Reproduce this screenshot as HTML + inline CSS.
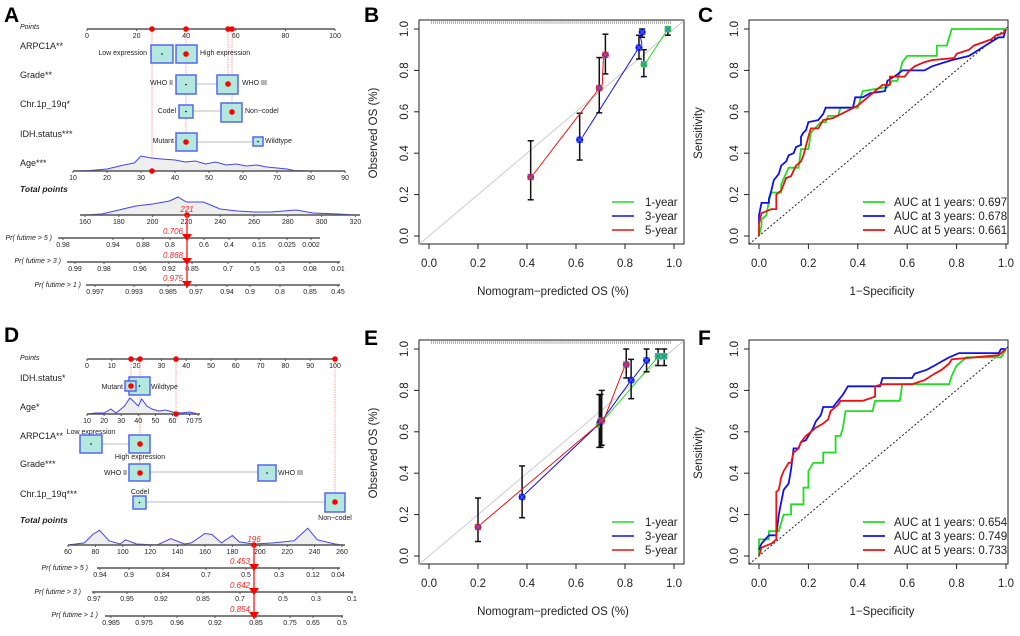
<!DOCTYPE html>
<html><head><meta charset="utf-8"><style>
body{margin:0;background:#fff;}
svg{display:block;font-family:"Liberation Sans",Arial,sans-serif;}
</style></head><body>
<svg id="fig" width="1020" height="636" viewBox="0 0 1020 636" xmlns="http://www.w3.org/2000/svg">
<text x="4" y="22" font-size="21" font-weight="bold">A</text>
<text x="364" y="22" font-size="21" font-weight="bold">B</text>
<text x="698" y="22" font-size="21" font-weight="bold">C</text>
<text x="4" y="342" font-size="21" font-weight="bold">D</text>
<text x="364" y="345" font-size="21" font-weight="bold">E</text>
<text x="698" y="345" font-size="21" font-weight="bold">F</text>
</svg>
<script>
// ---------- Calibration data (B) ----------
const calB_5y_x=[0.415,0.695,0.72], calB_5y_y=[0.285,0.715,0.875], calB_5y_lo=[0.175,0.595,0.783], calB_5y_hi=[0.46,0.862,0.975];
const calB_3y_x=[0.615,0.857,0.87], calB_3y_y=[0.465,0.91,0.985], calB_3y_lo=[0.367,0.855,0.96], calB_3y_hi=[0.593,0.97,1.0];
const calB_1y_x=[0.877,0.975], calB_1y_y=[0.83,1.0], calB_1y_lo=[0.77,0.97], calB_1y_hi=[0.9,1.0];
// ---------- Calibration data (E) ----------
const calE_5y_x=[0.2,0.705,0.805], calE_5y_y=[0.14,0.655,0.925], calE_5y_lo=[0.07,0.535,0.86], calE_5y_hi=[0.28,0.8,1.0];
const calE_3y_x=[0.38,0.7,0.825,0.888], calE_3y_y=[0.285,0.65,0.85,0.945], calE_3y_lo=[0.185,0.525,0.76,0.89], calE_3y_hi=[0.435,0.78,0.95,1.0];
const calE_1y_x=[0.695,0.935,0.96], calE_1y_y=[0.635,0.965,0.965], calE_1y_lo=[0.525,0.92,0.92], calE_1y_hi=[0.78,1.0,1.0];
const calTicks=[0,0.2,0.4,0.6,0.8,1.0];
const calTickLabels=["0.0","0.2","0.4","0.6","0.8","1.0"];
const legendYears=["1-year","3-year","5-year"];
// ---------- ROC data (C) ----------
const rocC_1y=[[0,0],[0.01,0.05],[0.01,0.08],[0.03,0.1],[0.04,0.17],[0.05,0.21],[0.09,0.21],[0.09,0.25],[0.12,0.33],[0.16,0.33],[0.17,0.42],[0.2,0.42],[0.21,0.5],[0.25,0.55],[0.27,0.55],[0.28,0.58],[0.32,0.58],[0.33,0.62],[0.4,0.62],[0.42,0.7],[0.52,0.72],[0.54,0.75],[0.56,0.75],[0.57,0.79],[0.58,0.84],[0.6,0.87],[0.72,0.87],[0.72,0.92],[0.76,0.92],[0.77,0.96],[0.78,1.0],[1,1]];
const rocC_3y=[[0,0.06],[0,0.1],[0.01,0.16],[0.04,0.16],[0.04,0.18],[0.05,0.22],[0.06,0.27],[0.08,0.3],[0.09,0.34],[0.11,0.36],[0.12,0.39],[0.14,0.4],[0.15,0.43],[0.17,0.44],[0.17,0.48],[0.18,0.5],[0.19,0.51],[0.2,0.55],[0.24,0.56],[0.26,0.59],[0.27,0.62],[0.38,0.62],[0.39,0.67],[0.42,0.67],[0.45,0.69],[0.51,0.7],[0.52,0.75],[0.56,0.78],[0.58,0.8],[0.67,0.8],[0.7,0.82],[0.78,0.85],[0.85,0.87],[0.89,0.9],[0.93,0.93],[0.97,0.96],[0.99,0.96],[1,1]];
const rocC_5y=[[0,0],[0,0.06],[0.01,0.11],[0.03,0.12],[0.05,0.13],[0.07,0.13],[0.07,0.2],[0.09,0.22],[0.11,0.28],[0.13,0.29],[0.15,0.34],[0.17,0.36],[0.18,0.39],[0.2,0.48],[0.21,0.52],[0.24,0.52],[0.26,0.56],[0.3,0.57],[0.35,0.6],[0.4,0.63],[0.44,0.67],[0.47,0.7],[0.5,0.73],[0.53,0.73],[0.53,0.77],[0.59,0.77],[0.61,0.8],[0.63,0.82],[0.67,0.84],[0.7,0.85],[0.79,0.86],[0.8,0.88],[0.85,0.9],[0.87,0.92],[0.94,0.95],[0.96,0.97],[0.99,0.98],[1,1]];
const aucC=["0.697","0.678","0.661"];
// ---------- ROC data (F) ----------
const rocF_1y=[[0,0],[0,0.08],[0.04,0.08],[0.04,0.12],[0.08,0.12],[0.09,0.16],[0.1,0.2],[0.13,0.2],[0.13,0.25],[0.18,0.25],[0.18,0.33],[0.2,0.33],[0.2,0.41],[0.22,0.45],[0.26,0.45],[0.26,0.5],[0.31,0.5],[0.31,0.58],[0.33,0.58],[0.34,0.62],[0.35,0.7],[0.46,0.7],[0.47,0.75],[0.57,0.75],[0.58,0.83],[0.77,0.83],[0.78,0.87],[0.8,0.92],[0.84,0.96],[0.98,0.96],[1,1]];
const rocF_3y=[[0,0.03],[0.01,0.06],[0.04,0.1],[0.07,0.1],[0.08,0.2],[0.09,0.26],[0.1,0.32],[0.12,0.35],[0.13,0.42],[0.14,0.52],[0.16,0.52],[0.17,0.55],[0.19,0.56],[0.21,0.6],[0.22,0.62],[0.23,0.65],[0.25,0.68],[0.26,0.72],[0.3,0.72],[0.32,0.75],[0.34,0.78],[0.36,0.82],[0.49,0.82],[0.5,0.86],[0.62,0.86],[0.63,0.88],[0.68,0.9],[0.71,0.92],[0.74,0.94],[0.77,0.96],[0.81,0.98],[0.97,0.98],[0.98,1],[1,1]];
const rocF_5y=[[0,0],[0.01,0.04],[0.03,0.05],[0.05,0.06],[0.07,0.08],[0.07,0.31],[0.08,0.32],[0.09,0.38],[0.1,0.41],[0.12,0.45],[0.13,0.45],[0.14,0.5],[0.16,0.52],[0.17,0.55],[0.19,0.58],[0.21,0.6],[0.23,0.62],[0.26,0.64],[0.28,0.66],[0.29,0.7],[0.32,0.73],[0.33,0.75],[0.42,0.75],[0.47,0.77],[0.47,0.82],[0.5,0.83],[0.62,0.83],[0.67,0.85],[0.71,0.88],[0.74,0.9],[0.77,0.93],[0.78,0.95],[0.97,0.97],[1,1]];
const aucF=["0.654","0.749","0.733"];
// ---------- Nomogram data ----------
const pointTicks=[0,20,40,60,80,100];
const pointTicksD=[0,10,20,30,40,50,60,70,80,90,100];
const ageTicksA=[10,20,30,40,50,60,70,80,90];
const ageDensA=[[10,0],[15,0.5],[20,2],[25,6],[28,8],[30,15],[33,13],[36,12],[40,11],[43,9],[46,10],[49,7],[52,9],[55,6],[58,7],[61,5],[64,6],[67,4],[70,3],[73,2],[75,0.5],[80,0],[90,0]];
const totTicksA=[160,180,200,220,240,260,280,300,320];
const totDensA=[[160,0],[170,1],[180,5],[190,9],[200,11],[210,14],[215,18],[220,13],[230,13],[240,6],[250,4],[260,3],[270,3],[285,5],[295,2],[310,1],[320,0]];
const prA5=[["0.98",63],["0.94",113],["0.88",143],["0.8",170],["0.6",204],["0.4",229],["0.15",259],["0.025",287],["0.002",311]];
const prA3=[["0.99",75],["0.98",104],["0.96",140],["0.92",169],["0.85",192],["0.7",228],["0.5",255],["0.3",280],["0.08",310],["0.01",338]];
const prA1=[["0.997",95],["0.993",134],["0.985",168],["0.97",196],["0.94",227],["0.9",250],["0.8",280],["0.85",310],["0.45",338]];
const ageTicksD=[10,20,30,40,50,60,70,75];
const ageDensD=[[10,0],[15,1],[20,1],[24,5],[27,1],[32,8],[35,16],[37,13],[40,8],[42,15],[45,8],[48,5],[52,3],[56,4],[60,2],[65,1],[70,2],[75,0]];
const totTicksD=[60,80,100,120,140,160,180,200,220,240,260];
const totDensD=[[60,0],[72,2],[78,10],[83,14],[90,4],[98,1],[102,5],[110,1],[125,0],[135,6],[145,1],[150,2],[160,11],[165,10],[172,2],[180,9],[185,3],[195,1],[210,2],[225,4],[235,16],[242,5],[255,1],[260,0]];
const prD5=[["0.94",100],["0.9",129],["0.84",163],["0.7",206],["0.5",246],["0.3",279],["0.12",313],["0.04",338]];
const prD3=[["0.97",94],["0.95",127],["0.92",161],["0.85",203],["0.7",240],["0.5",283],["0.3",316],["0.1",352]];
const prD1=[["0.985",111],["0.975",144],["0.96",177],["0.92",215],["0.85",256],["0.75",290],["0.65",313],["0.5",342]];

const svg=document.getElementById('fig');
const NS='http://www.w3.org/2000/svg';
function mk(tag,attrs,parent){const e=document.createElementNS(NS,tag);for(const k in attrs)e.setAttribute(k,attrs[k]);(parent||svg).appendChild(e);return e;}
function txt(x,y,s,attrs,parent){const e=mk('text',Object.assign({x:x,y:y},attrs||{}),parent);e.textContent=s;return e;}
const COL={g:'#22dd22',b:'#1010ee',r:'#ee1111'};
const FS=11.5;

// ===== calibration panel =====
function calPanel(oy,name,series,rugDense){
  const L=419,R=684,T=oy+20,B=oy+244;
  const y1=oy+29,y0=oy+236;
  const sx=v=>429+v*245, sy=v=>y0-v*(y0-y1);
  const g=mk('g',{});
  
  
  mk('rect',{x:L,y:T,width:R-L,height:B-T,fill:'none',stroke:'#222','stroke-width':1},g);
  mk('line',{x1:sx(-0.04),y1:sy(-0.04),x2:R,y2:sy((R-429)/245),stroke:'#ccc','stroke-width':1},g);
  calTicks.forEach((t,i)=>{
    mk('line',{x1:sx(t),y1:B,x2:sx(t),y2:B+5,stroke:'#222'},g);
    txt(sx(t),B+23,calTickLabels[i],{'font-size':FS,'text-anchor':'middle',fill:'#222'},g);
    mk('line',{x1:L,y1:sy(t),x2:L-5,y2:sy(t),stroke:'#222'},g);
    txt(L-11,sy(t),calTickLabels[i],{'font-size':FS,'text-anchor':'middle',fill:'#222',transform:`rotate(-90 ${L-11} ${sy(t)})`},g);
  });
  txt(553,B+51,'Nomogram\u2212predicted OS (%)',{'font-size':FS,'text-anchor':'middle',fill:'#222'},g);
  const ylx=377,yly=oy+133;
  txt(ylx,yly,'Observed OS (%)',{'font-size':FS,'text-anchor':'middle',fill:'#222',transform:`rotate(-90 ${ylx} ${yly})`},g);
  rugDense.forEach(v=>{mk('line',{x1:sx(v),y1:T,x2:sx(v),y2:T+4,stroke:'#666','stroke-width':0.5},g);});
  series.forEach(s=>{
    for(let i=0;i<s.x.length-1;i++){
      mk('line',{x1:sx(s.x[i])+3,y1:sy(s.y[i])-3,x2:sx(s.x[i+1])-2,y2:sy(s.y[i+1])+3,stroke:s.c,'stroke-width':1},g);
    }
    s.x.forEach((v,i)=>{
      const X=sx(v);
      mk('line',{x1:X,y1:sy(s.lo[i]),x2:X,y2:sy(s.hi[i]),stroke:'#111','stroke-width':1.5},g);
      mk('line',{x1:X-3,y1:sy(s.lo[i]),x2:X+3,y2:sy(s.lo[i]),stroke:'#111','stroke-width':1.5},g);
      mk('line',{x1:X-3,y1:sy(s.hi[i]),x2:X+3,y2:sy(s.hi[i]),stroke:'#111','stroke-width':1.5},g);
      const p=mk('circle',{cx:X,cy:sy(s.y[i]),r:3.5,fill:s.c},g);
      
      
      mk('path',{d:`M${X-3} ${sy(s.y[i])-3}L${X+3} ${sy(s.y[i])+3}M${X-3} ${sy(s.y[i])+3}L${X+3} ${sy(s.y[i])-3}`,stroke:'#4466ff','stroke-width':1},g);
    });
  });
  [COL.g,COL.b,COL.r].forEach((c,i)=>{
    const yy=oy+202+i*14;
    mk('line',{x1:612,y1:yy,x2:634,y2:yy,stroke:c,'stroke-width':1.5},g);
    txt(645,yy+4,legendYears[i],{'font-size':FS,fill:'#222'},g);
  });
}
const rugB=[];for(let i=0;i<120;i++){rugB.push(0.01+i*0.0082);}
calPanel(0,'calibration-chart-b',[
 {x:calB_1y_x,y:calB_1y_y,lo:calB_1y_lo,hi:calB_1y_hi,c:COL.g},
 {x:calB_3y_x,y:calB_3y_y,lo:calB_3y_lo,hi:calB_3y_hi,c:COL.b},
 {x:calB_5y_x,y:calB_5y_y,lo:calB_5y_lo,hi:calB_5y_hi,c:COL.r}],rugB);
calPanel(320,'calibration-chart-e',[
 {x:calE_1y_x,y:calE_1y_y,lo:calE_1y_lo,hi:calE_1y_hi,c:COL.g},
 {x:calE_3y_x,y:calE_3y_y,lo:calE_3y_lo,hi:calE_3y_hi,c:COL.b},
 {x:calE_5y_x,y:calE_5y_y,lo:calE_5y_lo,hi:calE_5y_hi,c:COL.r}],rugB);

// ===== ROC panels =====
function rocPanel(oy,name,curves,aucs){
  const L=749,R=1008,T=oy+20,B=oy+244;
  const y1=oy+29,y0=oy+236;
  const sx=v=>759+v*247, sy=v=>y0-v*(y0-y1);
  const g=mk('g',{});
  
  
  mk('rect',{x:L,y:T,width:R-L,height:B-T,fill:'none',stroke:'#222'},g);
  mk('line',{x1:L,y1:sy(-0.04),x2:R,y2:sy(1.01),stroke:'#222','stroke-dasharray':'2,2'},g);
  calTicks.forEach((t,i)=>{
    mk('line',{x1:sx(t),y1:B,x2:sx(t),y2:B+5,stroke:'#222'},g);
    txt(sx(t),B+23,calTickLabels[i],{'font-size':FS,'text-anchor':'middle',fill:'#222'},g);
    mk('line',{x1:L,y1:sy(t),x2:L-5,y2:sy(t),stroke:'#222'},g);
    txt(L-11,sy(t),calTickLabels[i],{'font-size':FS,'text-anchor':'middle',fill:'#222',transform:`rotate(-90 ${L-11} ${sy(t)})`},g);
  });
  txt(882,B+51,'1\u2212Specificity',{'font-size':FS,'text-anchor':'middle',fill:'#222'},g);
  txt(702,oy+133,'Sensitivity',{'font-size':FS,'text-anchor':'middle',fill:'#222',transform:`rotate(-90 702 ${oy+133})`},g);
  [COL.g,COL.b,COL.r].forEach((c,i)=>{
    const pts=curves[i].map(p=>sx(p[0]).toFixed(1)+','+sy(p[1]).toFixed(1)).join(' ');
    const pl=mk('polyline',{points:pts,fill:'none',stroke:c,'stroke-width':1.8},g);
    
    
  });
  ['1','3','5'].forEach((y,i)=>{
    const yy=oy+202+i*14;
    mk('line',{x1:863,y1:yy,x2:885,y2:yy,stroke:[COL.g,COL.b,COL.r][i],'stroke-width':1.8},g);
    txt(894,yy+4,'AUC at '+y+' years: '+aucs[i],{'font-size':FS,fill:'#222'},g);
  });
}
rocPanel(0,'roc-chart-c',[rocC_1y,rocC_3y,rocC_5y],aucC);
rocPanel(320,'roc-chart-f',[rocF_1y,rocF_3y,rocF_5y],aucF);

// ===== Nomograms =====
function axis(g,x1,x2,y,ticks,scale,fs){
  mk('line',{x1:x1,y1:y,x2:x2,y2:y,stroke:'#555','stroke-width':1.5},g);
  ticks.forEach(t=>{
    const X=typeof t==='object'?t[1]:scale(t), L=typeof t==='object'?t[0]:String(t);
    mk('line',{x1:X,y1:y,x2:X,y2:y+2,stroke:'#555'},g);
    txt(X,y+9,L,{'font-size':fs||7,'text-anchor':'middle',fill:'#222'},g);
  });
}
function box(g,x,y,w,h){mk('rect',{x:x,y:y,width:w,height:h,fill:'#b2e8dd',stroke:'#5566ee','stroke-width':1.5},g);mk('circle',{cx:x+w/2,cy:y+h/2,r:0.8,fill:'#000'},g);}
function dens(g,pts,sx,base,k){
  const d='M'+pts.map(p=>sx(p[0]).toFixed(1)+','+(base-p[1]*k).toFixed(1)).join('L');
  mk('path',{d:d+'Z',fill:'#eeeeee',stroke:'none'},g);
  mk('path',{d:d,fill:'none',stroke:'#4444ee','stroke-width':1},g);
}
function reddot(g,x,y){mk('circle',{cx:x,cy:y,r:2.8,fill:'#ff0000'},g);}
function vline(g,x,y1,y2){mk('line',{x1:x,y1:y1,x2:x,y2:y2,stroke:'#ff8888','stroke-width':0.8,'stroke-dasharray':'1.5,1'},g);}
function tri(g,x,y){mk('path',{d:`M${x-5} ${y-4}L${x+5} ${y-4}L${x} ${y+3}Z`,fill:'#ff0000'},g);}
const lab={'font-size':9,fill:'#222'};
const ital={'font-size':7,'font-style':'italic',fill:'#222','text-anchor':'end'};
const sm={'font-size':7,fill:'#222'};

// --- A ---
(function(){
  const g=mk('g',{});
  
  
  const px=v=>87+v*2.48;
  txt(20,29,'Points',{'font-size':7,'font-style':'italic',fill:'#222'},g);
  axis(g,87,335,29,pointTicks,px);
  const age=v=>73+(v-10)*3.4;
  const tot=v=>85+(v-160)*1.69;
  ['ARPC1A**','Grade**','Chr.1p_19q*','IDH.status***','Age***'].forEach((s,i)=>txt(20,[49,78,107,137,166][i],s,lab,g));
  txt(20,192,'Total points',{'font-size':8.5,'font-weight':'bold','font-style':'italic',fill:'#222'},g);
  vline(g,152,29,171);vline(g,186,29,142);vline(g,228,29,84);vline(g,232,29,112);
  mk('line',{x1:197,y1:84,x2:217,y2:84,stroke:'#ddd','stroke-width':2},g);
  mk('line',{x1:193,y1:111,x2:221,y2:111,stroke:'#ddd','stroke-width':2},g);
  mk('line',{x1:197,y1:142,x2:252,y2:142,stroke:'#ddd','stroke-width':2},g);
  box(g,151,45,22,18);box(g,176,45,21,18);
  box(g,176,75,20,19);box(g,217,75,21,19);
  box(g,179,105,14,13);box(g,221,103,21,19);
  box(g,176,133,21,18);box(g,253,137,10,9);
  txt(147,55,'Low expression',Object.assign({'text-anchor':'end'},sm),g);
  txt(200,55,'High expression',sm,g);
  txt(173,85,'WHO II',Object.assign({'text-anchor':'end'},sm),g);
  txt(242,85,'WHO III',sm,g);
  txt(176,113,'Codel',Object.assign({'text-anchor':'end'},sm),g);
  txt(245,113,'Non\u2212codel',sm,g);
  txt(174,143,'Mutant',Object.assign({'text-anchor':'end'},sm),g);
  txt(265,143,'Wildtype',sm,g);
  dens(g,ageDensA,age,171,1);
  axis(g,73,345,171,ageTicksA,age);
  dens(g,totDensA,tot,215,1);
  axis(g,80,360,215,totTicksA,tot);
  [[152,29],[186,29],[228,29],[232,29],[186,54],[228,84],[232,112],[186,142],[152,171],[187,215]].forEach(p=>reddot(g,p[0],p[1]));
  txt(187,212,'221',{'font-size':8,'font-style':'italic',fill:'#ff2222','text-anchor':'middle'},g);
  txt(52,240,'Pr( futime > 5 )',ital,g);
  txt(61,263,'Pr( futime > 3 )',ital,g);
  txt(81,287,'Pr( futime > 1 )',ital,g);
  axis(g,58,320,238,prA5,null);
  axis(g,67,340,262,prA3,null);
  axis(g,86,340,285,prA1,null);
  mk('line',{x1:187,y1:215,x2:187,y2:288,stroke:'#ff3333','stroke-width':1.5},g);
  tri(g,187,238);tri(g,187,262);tri(g,187,285);
  txt(183,234,'0.706',{'font-size':8,'font-style':'italic',fill:'#ff2222','text-anchor':'end'},g);
  txt(183,258,'0.868',{'font-size':8,'font-style':'italic',fill:'#ff2222','text-anchor':'end'},g);
  txt(183,281,'0.975',{'font-size':8,'font-style':'italic',fill:'#ff2222','text-anchor':'end'},g);
})();

// --- D ---
(function(){
  const g=mk('g',{});
  
  
  const px=v=>87+v*2.48;
  txt(20,360,'Points',{'font-size':7,'font-style':'italic',fill:'#222'},g);
  axis(g,87,335,359,pointTicksD,px);
  const age=v=>87+(v-10)*1.71;
  const tot=v=>68+(v-60)*1.37;
  ['IDH.status*','Age*','ARPC1A**','Grade***','Chr.1p_19q***'].forEach((s,i)=>txt(20,[381,410,439,467,497][i],s,lab,g));
  txt(20,523,'Total points',{'font-size':8.5,'font-weight':'bold','font-style':'italic',fill:'#222'},g);
  vline(g,131,359,386);vline(g,140,359,472);vline(g,176,359,414);vline(g,335,359,502);
  mk('line',{x1:102,y1:444,x2:129,y2:444,stroke:'#ddd','stroke-width':2},g);
  mk('line',{x1:150,y1:472,x2:258,y2:472,stroke:'#ddd','stroke-width':2},g);
  mk('line',{x1:146,y1:502,x2:325,y2:502,stroke:'#ddd','stroke-width':2},g);
  box(g,129,377,21,18);box(g,125,381,11,10);
  box(g,80,435,22,18);box(g,129,435,21,18);
  box(g,129,464,21,17);box(g,258,465,18,16);
  box(g,133,496,13,13);box(g,325,493,20,19);
  txt(123,389,'Mutant',Object.assign({'text-anchor':'end'},sm),g);
  txt(151,389,'Wildtype',sm,g);
  txt(91,434,'Low expression',Object.assign({'text-anchor':'middle'},sm),g);
  txt(140,459,'High expression',Object.assign({'text-anchor':'middle'},sm),g);
  txt(127,475,'WHO II',Object.assign({'text-anchor':'end'},sm),g);
  txt(278,475,'WHO III',sm,g);
  txt(140,494,'Codel',Object.assign({'text-anchor':'middle'},sm),g);
  txt(335,520,'Non\u2212codel',Object.assign({'text-anchor':'middle'},sm),g);
  dens(g,ageDensD,age,414,1);
  axis(g,87,200,414,ageTicksD,age);
  dens(g,totDensD,tot,545,1.05);
  axis(g,68,345,545,totTicksD,tot);
  [[131,359],[140,359],[176,359],[335,359],[131,386],[140,444],[140,473],[335,502],[176,414],[254,545]].forEach(p=>reddot(g,p[0],p[1]));
  txt(254,542,'196',{'font-size':8,'font-style':'italic',fill:'#ff2222','text-anchor':'middle'},g);
  txt(88,570,'Pr( futime > 5 )',ital,g);
  txt(81,594,'Pr( futime > 3 )',ital,g);
  txt(98,617,'Pr( futime > 1 )',ital,g);
  axis(g,97,340,568,prD5,null);
  axis(g,92,353,592,prD3,null);
  axis(g,105,343,616,prD1,null);
  mk('line',{x1:254,y1:545,x2:254,y2:619,stroke:'#ff3333','stroke-width':1.5},g);
  tri(g,254,568);tri(g,254,592);tri(g,254,616);
  txt(250,564,'0.453',{'font-size':8,'font-style':'italic',fill:'#ff2222','text-anchor':'end'},g);
  txt(250,588,'0.642',{'font-size':8,'font-style':'italic',fill:'#ff2222','text-anchor':'end'},g);
  txt(250,612,'0.854',{'font-size':8,'font-style':'italic',fill:'#ff2222','text-anchor':'end'},g);
})();
</script>
</body></html>
